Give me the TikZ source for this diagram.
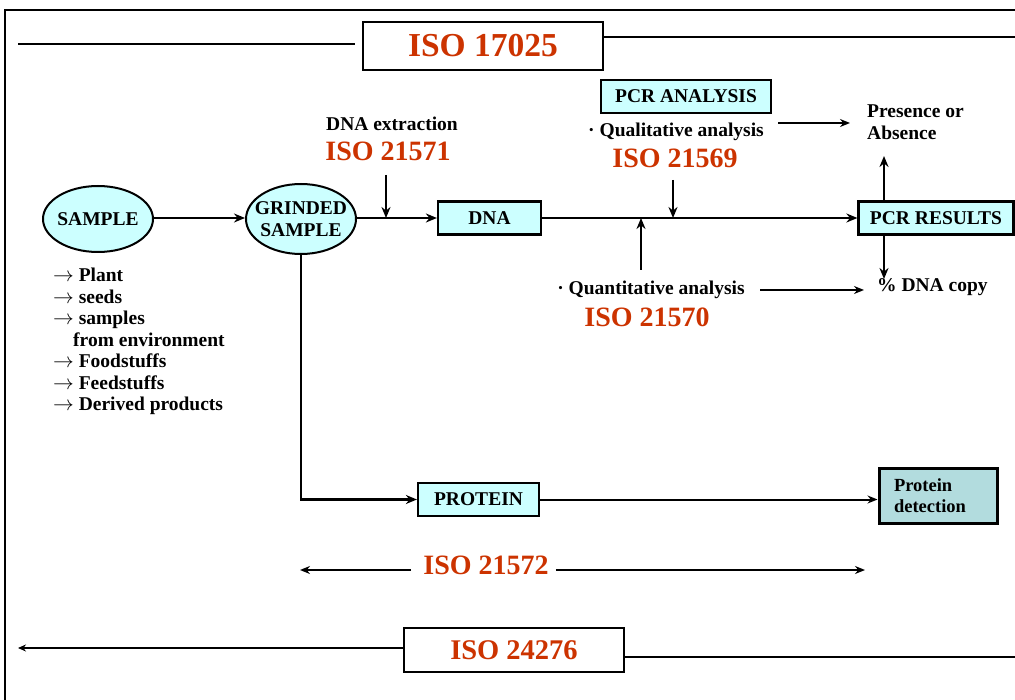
\documentclass[tikz,border=0pt]{standalone}
\usepackage{fontspec}
\setmainfont{Liberation Serif}
\usetikzlibrary{shapes.geometric,arrows.meta}
\definecolor{isored}{RGB}{204,51,0}
\definecolor{lcyan}{RGB}{204,255,255}
\definecolor{dcyan}{RGB}{178,220,222}
\tikzset{
  txt/.style={font=\bfseries\fontsize{19.5}{21.5}\selectfont, inner sep=0pt},
  iso/.style={font=\bfseries\fontsize{28}{30}\selectfont, text=isored, inner sep=0pt},
  bigiso/.style={font=\fontsize{33.5}{36}\selectfont\bfseries, text=isored},
  cbox/.style={draw, line width=2.2pt, fill=lcyan, txt, minimum height=33pt},
  wbox/.style={draw, line width=2.8pt, fill=white, inner sep=0pt},
  ell/.style={ellipse, draw, line width=2pt, fill=lcyan, txt, inner sep=0pt, align=center},
  arr/.style={line width=2.4pt, -{Stealth[length=11pt,width=9pt]}},
  thinarr/.style={line width=2pt, -{Stealth[length=10pt,width=8pt]}},
  frame/.style={line width=1.6pt},
}
\begin{document}
\begin{tikzpicture}[x=1pt,y=-1pt]
\useasboundingbox (0,0) rectangle (1015,700);
% frame
\draw[frame] (5,700) -- (5,10) -- (1015,10);
% ISO 17025
\node[wbox, minimum width=240pt, minimum height=48pt, bigiso] (i17025) at (483,46) {ISO 17025};
\coordinate (t1) at (18,44);
\coordinate (t2) at (355,44);
\coordinate (t3) at (1015,37);
\draw[frame] (t1) -- (t2);
\draw[frame] (i17025.east |- t3) -- (t3);
% main flow
\node[ell, minimum width=110pt, minimum height=66pt, inner sep=-2pt] (sample) at (98,219) {SAMPLE};
\node[ell, minimum width=110pt, minimum height=70pt, inner sep=-10pt, font=\bfseries\fontsize{19.5}{22}\selectfont] (grind) at (301,219) {GRINDED\\SAMPLE};
\node[cbox, minimum width=103pt] (dna) at (489.5,218) {DNA};
\node[cbox, minimum width=155pt] (pcr) at (936,218) {PCR RESULTS};
\draw[arr] (sample.east |- dna.west) -- (grind.west |- dna.west);
\draw[arr] (grind.east |- dna.west) -- (dna.west);
\draw[arr] (dna.east) -- (pcr.west);
% DNA extraction
\node[txt] (ext) at (392,124) {DNA extraction};
\node[iso] (i21571) at (388,151) {ISO 21571};
\coordinate (e1) at (386,175);
\coordinate (e2) at (386,218);
\draw[arr] (e1) -- (e2);
% PCR analysis
\node[cbox, minimum width=170pt, line width=2.8pt] (pcra) at (686,96.5) {PCR ANALYSIS};
\node[txt] (qual) at (676,132) {· Qualitative analysis};
\node[iso] (i21569) at (675,158) {ISO 21569};
\coordinate (q1) at (673,180);
\coordinate (q2) at (673,218);
\draw[arr] (q1) -- (q2);
\coordinate (q3) at (641,270);
\coordinate (q4) at (641,218);
\draw[arr] (q3) -- (q4);
\node[txt] (quant) at (651,290) {· Quantitative analysis};
\node[iso] (i21570) at (647,317) {ISO 21570};
% results
\node[txt, align=left, anchor=west] (pres) at (867,122) {Presence or\\Absence};
\coordinate (pa1) at (778,123);
\coordinate (pa2) at (850,123);
\draw[thinarr] (pa1) -- (pa2);
\coordinate (up1) at (884,201);
\coordinate (up2) at (884,156);
\draw[arr] (up1) -- (up2);
\node[txt, anchor=west] (copy) at (877,287) {\% DNA copy};
\coordinate (dn1) at (884,235);
\coordinate (dn2) at (884,279);
\draw[arr] (dn1) -- (dn2);
\coordinate (qa1) at (760,290);
\coordinate (qa2) at (864,290);
\draw[thinarr] (qa1) -- (qa2);
% sample list
\node[txt, align=left, anchor=north west] (list) at (53,268) {$\rightarrow$ Plant\\$\rightarrow$ seeds\\$\rightarrow$ samples\\\hspace*{20pt}from environment\\$\rightarrow$ Foodstuffs\\$\rightarrow$ Feedstuffs\\$\rightarrow$ Derived products};
% protein branch
\node[cbox, minimum width=121pt] (prot) at (478.5,499.5) {PROTEIN};
\node[draw, line width=3pt, fill=dcyan, minimum width=118pt, minimum height=55pt, inner xsep=0pt,
  font=\bfseries\fontsize{18.5}{21}\selectfont, align=left, text width=88pt] (pdet) at (938,495.5) {Protein\\detection};
\draw[line width=2.8pt, -{Stealth[length=11pt,width=9pt]}] (grind.south) -- (grind.south |- prot.west) -- (prot.west);
\draw[thinarr] (prot.east) -- (prot.east -| pdet.west);
% ISO 21572
\node[iso] (i21572) at (486,565) {ISO 21572};
\coordinate (r1) at (300,570);
\coordinate (r2) at (865,570);
\draw[thinarr] ([xshift=-12pt]i21572.west |- r1) -- (r1);
\draw[thinarr] ([xshift=7pt]i21572.east |- r2) -- (r2);
% ISO 24276
\node[wbox, minimum width=220pt, minimum height=44pt, font=\fontsize{28.5}{30}\selectfont\bfseries, text=isored] (i24276) at (514,650) {ISO 24276};
\coordinate (b1) at (18,648);
\coordinate (b2) at (1015,657);
\draw[frame, -{Stealth[length=8pt,width=7pt]}] (i24276.west |- b1) -- (b1);
\draw[line width=2.2pt] (i24276.east |- b2) -- (b2);
\end{tikzpicture}
\end{document}
